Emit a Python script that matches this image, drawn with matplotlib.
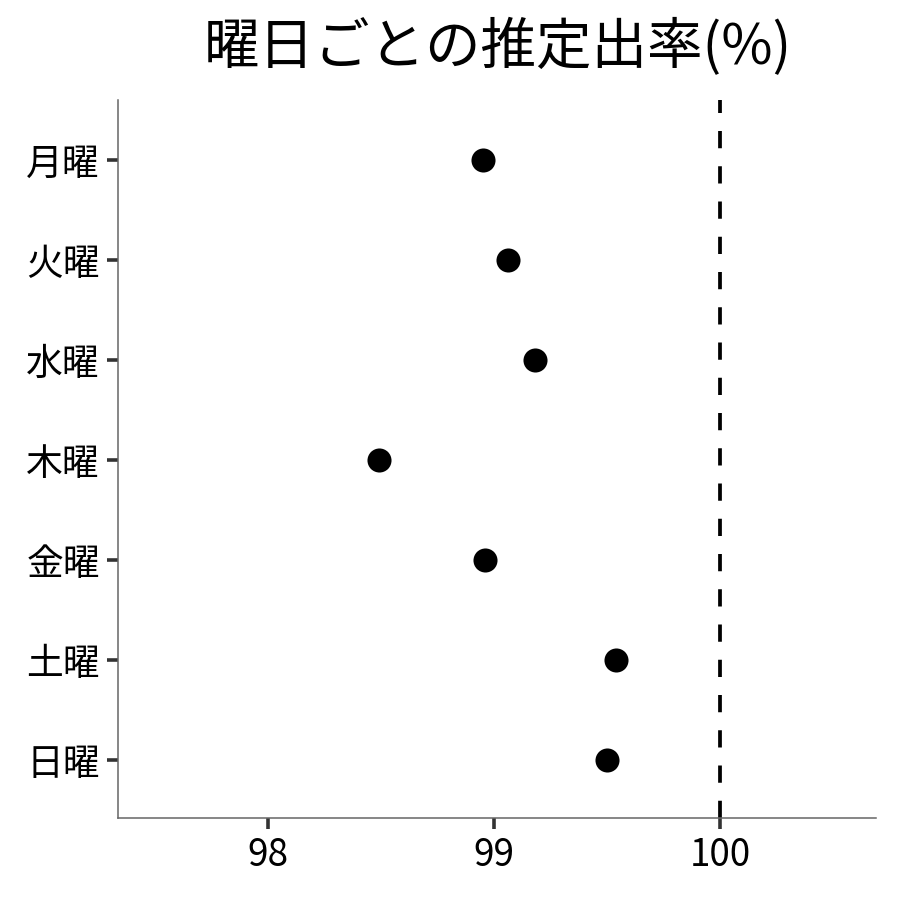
import matplotlib
matplotlib.use("Agg")
import matplotlib.pyplot as plt

plt.rcParams['font.family'] = ['Noto Sans CJK JP', 'DejaVu Sans']

# data
days = ["月曜", "火曜", "水曜", "木曜", "金曜", "土曜", "日曜"]
rates = [98.95, 99.06, 99.18, 98.49, 98.96, 99.54, 99.50]
xticks = [98, 99, 100]
ref_line = 100

fig = plt.figure(figsize=(9, 9), dpi=100)
ax = fig.add_axes([0.1311, 0.0911, 0.8422, 0.7978])

ypos = list(range(len(days)))
ax.scatter(rates, ypos, s=300, color='black', zorder=3, linewidths=0)
ax.axvline(ref_line, color='black', lw=2.7, dashes=(4.6, 4.8), zorder=2)

ax.set_xlim(97.336, 100.69)
ax.set_ylim(len(days) - 1 + 0.58, -0.6)
ax.set_yticks(ypos)
ax.set_yticklabels(days)
ax.set_xticks(xticks)
ax.set_xticklabels([str(t) for t in xticks])

for side in ['top', 'right']:
    ax.spines[side].set_visible(False)
for side in ['left', 'bottom']:
    ax.spines[side].set_color('#666666')
    ax.spines[side].set_linewidth(1.1)

ax.tick_params(axis='both', length=8, width=2.6, color='#333333',
               labelsize=26.5, labelcolor='black', pad=5)

fig.suptitle("曜日ごとの推定出率(%)", fontsize=40, y=0.979, x=0.553)

plt.savefig("out.png", dpi=100)
plt.close()
